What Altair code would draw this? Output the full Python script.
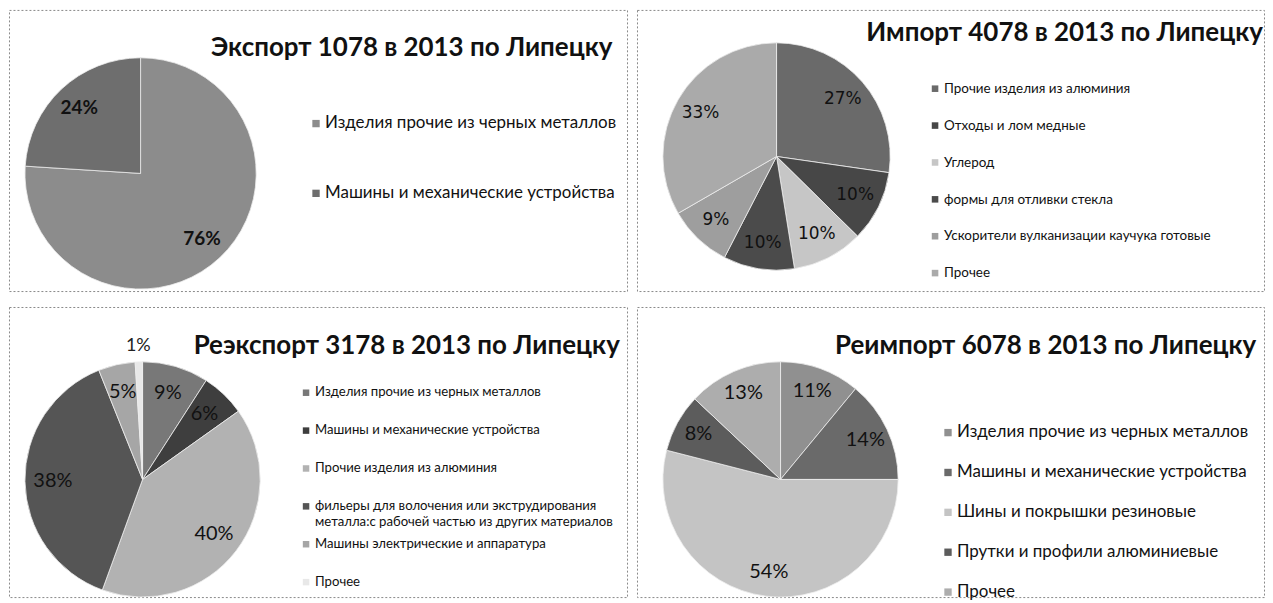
import altair as alt
import pandas as pd

# ---------------- data ----------------
titles = [
    "Экспорт 1078 в 2013 по Липецку",
    "Импорт 4078 в 2013 по Липецку",
    "Реэкспорт 3178 в 2013 по Липецку",
    "Реимпорт 6078 в 2013 по Липецку",
]

exp_cats = ["Изделия прочие из черных металлов", "Машины и механические устройства"]
exp_vals = [76, 24]

imp_cats = [
    "Прочие изделия из алюминия",
    "Отходы и лом медные",
    "Углерод",
    "формы для отливки стекла",
    "Ускорители вулканизации каучука готовые",
    "Прочее",
]
imp_vals = [27, 10, 10, 10, 9, 33]

rex_cats = [
    "Изделия прочие из черных металлов",
    "Машины и механические устройства",
    "Прочие изделия из алюминия",
    "фильеры для волочения или экструдирования\nметалла:с рабочей частью из других материалов",
    "Машины электрические и аппаратура",
    "Прочее",
]
rex_vals = [9, 6, 40, 38, 5, 1]

rim_cats = [
    "Изделия прочие из черных металлов",
    "Машины и механические устройства",
    "Шины и покрышки резиновые",
    "Прутки и профили алюминиевые",
    "Прочее",
]
rim_vals = [11, 14, 54, 8, 13]

# ---------------- styles ----------------
exp_colors = ["#8c8c8c", "#6e6e6e"]
imp_colors = ["#6a6a6a", "#474747", "#c6c6c6", "#4b4b4b", "#9e9e9e", "#aaaaaa"]
rex_colors = ["#787878", "#3e3e3e", "#b2b2b2", "#555555", "#a6a6a6", "#e8e8e8"]
rim_colors = ["#909090", "#6a6a6a", "#c4c4c4", "#5c5c5c", "#adadad"]

FONT = "Lato"


def panel(title, cats, vals, colors, w, h, cx, cy, r, lr, lfs, lfont, lweight,
          tx, ty, tfs, lx, ly0, ly1, lgfs, outer_r=None):
    df = pd.DataFrame({"cat": cats, "val": vals})
    base = alt.Chart(df).transform_window(idx="row_number()").transform_calculate(
        inner="datum.val >= 2 ? datum.val + '%' : ''",
        outer="datum.val < 2 ? datum.val + '%' : ''",
    )
    color = alt.Color("cat:N", scale=alt.Scale(domain=cats, range=colors), legend=None)
    theta = alt.Theta("val:Q", stack=True)
    order = alt.Order("idx:Q")

    arcs = base.mark_arc(radius=r, stroke="#eeeeee", strokeWidth=0.8).encode(
        theta=theta, color=color, order=order, x=alt.value(cx), y=alt.value(cy)
    )
    labels = base.mark_text(
        radius=lr, fontSize=lfs, font=lfont, fontWeight=lweight, color="#111111"
    ).encode(
        theta=theta, order=order, detail="cat:N", text="inner:N",
        x=alt.value(cx), y=alt.value(cy)
    )
    layers = [arcs, labels]
    if outer_r is not None:
        layers.append(
            base.mark_text(radius=outer_r, fontSize=lfs - 2, font=FONT, color="#222222").encode(
                theta=theta, order=order, detail="cat:N", text="outer:N",
                x=alt.value(cx), y=alt.value(cy)
            )
        )

    ly = alt.Y(
        "cat:N", sort=cats,
        scale=alt.Scale(type="point", domain=cats, range=[ly0, ly1], padding=0),
        axis=None,
    )
    sym = base.mark_square(size=lgfs * 3.2, opacity=1).encode(
        x=alt.value(lx), y=ly, color=color
    )
    txt = base.mark_text(
        align="left", baseline="top", dy=-0.5 * lgfs, fontSize=lgfs, font=FONT,
        lineBreak="\n", lineHeight=lgfs * 1.25, color="#111111"
    ).encode(x=alt.value(lx + 9), y=ly, text="cat:N")

    ttl = alt.Chart(pd.DataFrame({"t": [title]})).mark_text(
        font=FONT, fontSize=tfs, fontWeight="bold", color="#111111", align="center",
        baseline="middle"
    ).encode(text="t:N", x=alt.value(tx), y=alt.value(ty))

    return alt.layer(*layers, sym, txt, ttl).properties(width=w, height=h)


p1 = panel(titles[0], exp_cats, exp_vals, exp_colors, 620, 282,
           132, 164, 116, 90, 19, FONT, "bold",
           404, 38, 26, 308, 114, 184, 17)
p2 = panel(titles[1], imp_cats, imp_vals, imp_colors, 629, 282,
           140, 147, 114, 88, 17, "DejaVu Sans", "normal",
           429, 23, 26, 299, 79, 264, 13.5)
p3 = panel(titles[2], rex_cats, rex_vals, rex_colors, 620, 291,
           134, 173, 118, 90, 20, FONT, "normal",
           399, 39, 26, 298, 86, 276, 13.2, outer_r=134)
p4 = panel(titles[3], rim_cats, rim_vals, rim_colors, 629, 291,
           144, 173, 118, 94, 20, FONT, "normal",
           410, 39, 26, 312, 126, 286, 17)

chart = alt.vconcat(
    alt.hconcat(p1, p2, spacing=8).resolve_scale(color="independent", theta="independent", y="independent"),
    alt.hconcat(p3, p4, spacing=8).resolve_scale(color="independent", theta="independent", y="independent"),
    spacing=14,
).resolve_scale(color="independent", theta="independent", y="independent").properties(
    padding=0, background="white"
).configure_view(
    stroke="#8a8a8a", strokeDash=[2, 2], strokeWidth=1
)

chart.save("out.html", embed_options={"renderer": "svg", "actions": False})
